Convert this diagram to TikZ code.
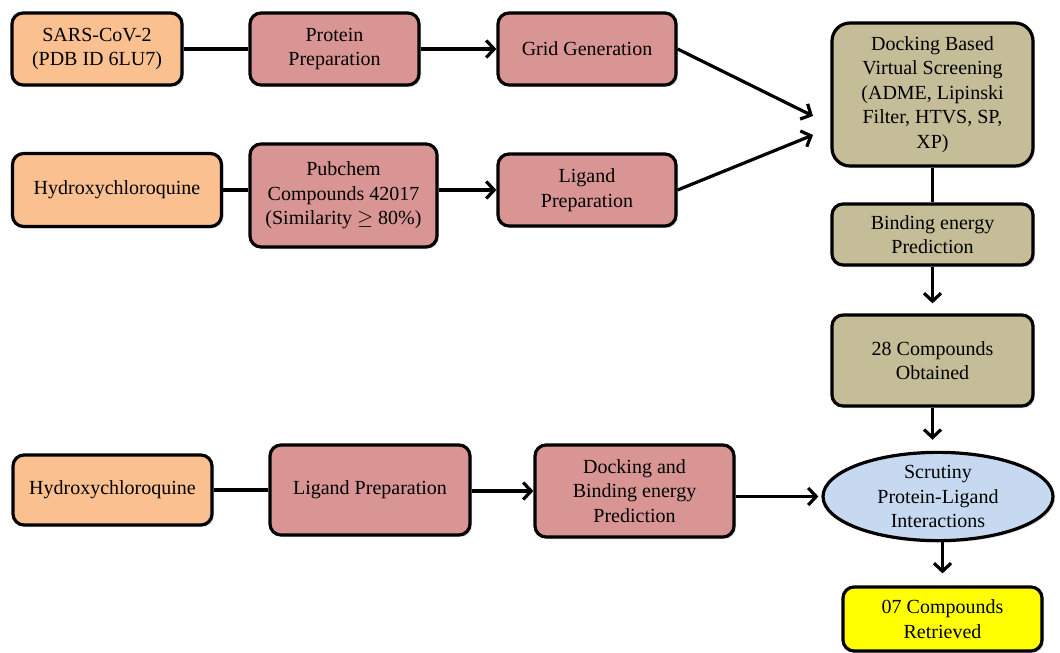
\documentclass[tikz,border=0pt]{standalone}
\usepackage{fontspec}
\setmainfont{Liberation Serif}
\usetikzlibrary{arrows.meta,shapes.geometric,shadows}
\definecolor{cOrange}{HTML}{FAC090}
\definecolor{cPink}{HTML}{D99594}
\definecolor{cTan}{HTML}{C4BD97}
\definecolor{cBlue}{HTML}{C6D9F1}
\definecolor{cYellow}{HTML}{FFFF00}
\begin{document}
\begin{tikzpicture}[x=1pt,y=-1pt,
  every node/.style={font=\fontsize{20}{24.5}\selectfont, align=center, inner sep=2pt},
  boxbase/.style={draw=black, line width=3.2pt, rounded corners=11pt,
    drop shadow={opacity=0.25, shadow xshift=2pt, shadow yshift=-2pt}},
  orangebox/.style={boxbase, fill=cOrange},
  pinkbox/.style={boxbase, fill=cPink},
  tanbox/.style={boxbase, fill=cTan},
  link/.style={line width=3.2pt},
  arr/.style={line width=3.2pt, -{Straight Barb[length=8pt,width=17pt]}},
]
\useasboundingbox (0,0) rectangle (1060,653);

% row 1
\node[orangebox, minimum width=170pt, minimum height=72pt] (sars) at (97,49) {SARS-CoV-2\\(PDB ID 6LU7)};
\node[pinkbox, minimum width=169pt, minimum height=72pt] (prot) at (334.5,49) {Protein\\Preparation};
\node[pinkbox, minimum width=178pt, minimum height=72pt] (grid) at (587,49) {Grid Generation};

% row 2
\node[orangebox, minimum width=209pt, minimum height=73pt] (hcqa) at (117,190) {Hydroxychloroquine};
\node[pinkbox, minimum width=187pt, minimum height=103pt] (pub) at (343.5,195.5) {Pubchem\\Compounds 42017\\(Similarity $\geq$ 80\%)};
\node[pinkbox, minimum width=178pt, minimum height=72pt] (liga) at (587,190) {Ligand\\Preparation};

% right column
\node[tanbox, rounded corners=18pt, minimum width=201pt, minimum height=143pt] (dock) at (932.5,94.5) {Docking Based\\Virtual Screening\\(ADME, Lipinski\\Filter, HTVS, SP,\\XP)};
\node[tanbox, minimum width=201pt, minimum height=61pt] (bind) at (932.5,234.5) {Binding energy\\Prediction};
\node[tanbox, minimum width=201pt, minimum height=91pt] (cpd) at (932.5,360.5) {28 Compounds\\Obtained};

% row 3
\node[orangebox, minimum width=199pt, minimum height=70pt] (hcqb) at (112.5,490) {Hydroxychloroquine};
\node[pinkbox, minimum width=200pt, minimum height=90pt] (ligb) at (370,490) {Ligand Preparation};
\node[pinkbox, minimum width=199pt, minimum height=92pt] (dab) at (634.5,491) {Docking and\\Binding energy\\Prediction};
\node[ellipse, draw=black, line width=3.2pt, fill=cBlue, inner sep=0pt,
  minimum width=230pt, minimum height=81pt,
  drop shadow={opacity=0.25, shadow xshift=2pt, shadow yshift=-2pt}] (scr) at (938,496.5) {Scrutiny\\Protein-Ligand\\Interactions};
\node[boxbase, fill=cYellow, minimum width=199pt, minimum height=64pt] (fin) at (942.5,619) {07 Compounds\\Retrieved};

% connectors
\coordinate (tipa) at (813,116);
\coordinate (tipb) at (813,135);
\draw[link] (sars) -- (prot);
\draw[arr] (prot) -- (grid);
\draw[arr] (grid.east) -- (tipa);
\draw[link] (hcqa.east) -- (hcqa.east -| pub.west);
\draw[arr] (pub.east |- liga.west) -- (liga.west);
\draw[arr] (liga.east) -- (tipb);
\draw[link] (dock.south) -- (bind.north);
\draw[arr, shorten >=10pt] (bind.south) -- (cpd.north);
\draw[arr, shorten >=11pt] (cpd.south) -- (cpd.south |- scr.north);
\draw[arr, shorten >=12pt] (scr.south -| fin.north) -- (fin.north);
\draw[link] (hcqb) -- (ligb);
\draw[arr] (ligb.east |- dab.west) -- (dab.west);
\draw[arr, shorten >=3pt] (dab.east |- scr.west) -- (scr.west);
\end{tikzpicture}
\end{document}
